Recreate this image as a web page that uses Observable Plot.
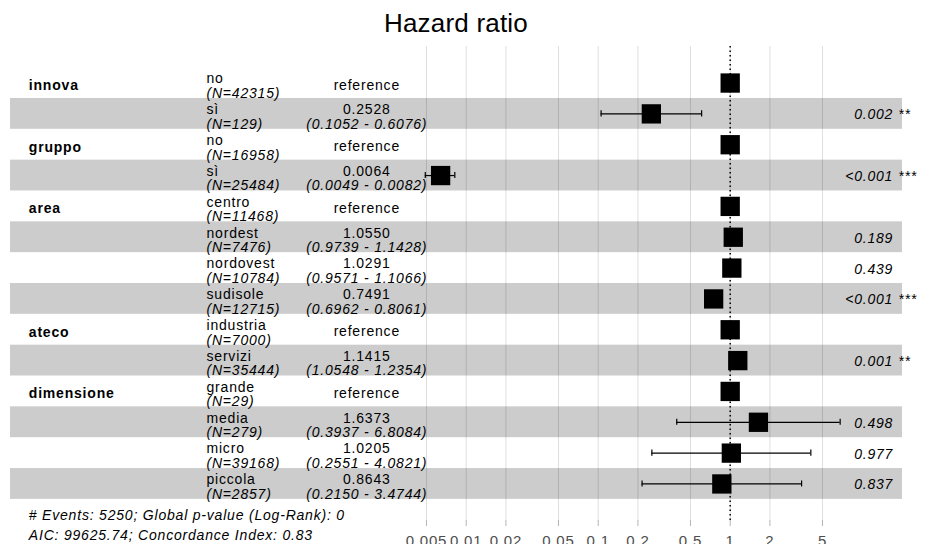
<!DOCTYPE html>
<html>
<head>
<meta charset="utf-8">
<script src="https://cdn.jsdelivr.net/npm/d3@7"></script>
<script src="https://cdn.jsdelivr.net/npm/@observablehq/plot@0.6"></script>
<style>
  body { margin: 0; background: #fff; }
  #wrap { position: relative; width: 930px; height: 544px; overflow: hidden; font-family: "Liberation Sans", Arial, sans-serif; background: #fff; }
  #title { position: absolute; left: 10px; top: 0; width: 892px; height: 40px; box-sizing: border-box; padding-top: 3px;
           text-align: center; font-size: 26px; line-height: 40px; color: #000; letter-spacing: 0.2px; }
  #chart { position: absolute; left: 0; top: 40px; }
  #chart svg text { letter-spacing: 0.8px; }
</style>
</head>
<body>
<div id="wrap">
  <div id="title">Hazard ratio</div>
  <div id="chart"></div>
</div>
<script>
// ---- data ----
const variables = ["innova","innova","gruppo","gruppo","area","area","area","area","ateco","ateco","dimensione","dimensione","dimensione","dimensione"];
const levels    = ["no","sì","no","sì","centro","nordest","nordovest","sudisole","industria","servizi","grande","media","micro","piccola"];
const counts    = [42315,129,16958,25484,11468,7476,10784,12715,7000,35444,29,279,39168,2857];
const hr        = [1,0.2528,1,0.0064,1,1.0550,1.0291,0.7491,1,1.1415,1,1.6373,1.0205,0.8643];
const lower     = [null,0.1052,null,0.0049,null,0.9739,0.9571,0.6962,null,1.0548,null,0.3937,0.2551,0.2150];
const upper     = [null,0.6076,null,0.0082,null,1.1428,1.1066,0.8061,null,1.2354,null,6.8084,4.0821,3.4744];
const pvalues   = [null,"0.002",null,"<0.001",null,"0.189","0.439","<0.001",null,"0.001",null,"0.498","0.977","0.837"];
const stars     = ["","**","","***","","","","***","","**","","","",""];
const tickValues = [0.005,0.01,0.02,0.05,0.1,0.2,0.5,1,2,5];
const tickLabels = ["0.005","0.01","0.02","0.05","0.1","0.2","0.5","1","2","5"];
const footLine1 = "# Events: 5250; Global p-value (Log-Rank): 0";
const footLine2 = "AIC: 99625.74; Concordance Index: 0.83";

// ---- table built from the arrays ----
const rows = levels.map((lv, i) => ({
  row: i,
  variable: variables[i],
  first: i === 0 || variables[i] !== variables[i - 1],
  level: lv,
  n: counts[i],
  hr: hr[i],
  lo: lower[i],
  hi: upper[i],
  p: pvalues[i],
  stars: stars[i],
  ref: lower[i] == null
}));
const refRows = rows.filter(d => d.ref);
const estRows = rows.filter(d => !d.ref);
const shaded = rows.filter(d => d.row % 2 === 1);
const ticks = tickValues.map((v, i) => ({ v, label: tickLabels[i] }));

const fs = 14;
const plot = Plot.plot({
  width: 930,
  height: 504,
  marginLeft: 10,
  marginRight: 28,
  marginTop: 6,
  marginBottom: 24,
  style: { fontFamily: '"Liberation Sans", Arial, sans-serif', background: "white", overflow: "visible", color: "black" },
  x: { type: "log", domain: [3.53e-6, 20.2], axis: null },
  y: { type: "band", domain: d3.range(levels.length), paddingInner: 0, paddingOuter: 0.685, round: false, axis: null },
  marks: [
    Plot.gridX(tickValues, { stroke: "#DEDEDE", strokeOpacity: 1, strokeWidth: 1 }),
    Plot.cell(shaded, { y: "row", fill: "black", fillOpacity: 0.2, inset: 0 }),
    // axis ticks and labels
    Plot.tickX(ticks, { x: "v", stroke: "#B3B3B3", strokeWidth: 1, insetTop: 474, insetBottom: -6 }),
    Plot.text(ticks, { x: "v", text: "label", frameAnchor: "bottom", lineAnchor: "top", dy: 15, fontSize: 15, fill: "#4D4D4D" }),
    Plot.ruleX([1], { stroke: "black", strokeDasharray: "1.5,3", strokeWidth: 1.5 }),
    // confidence intervals
    Plot.ruleY(estRows, { y: "row", x1: "lo", x2: "hi", stroke: "black", strokeWidth: 1.2 }),
    Plot.tickX(estRows, { x: "lo", y: "row", stroke: "black", strokeWidth: 1.2, insetTop: 12.4, insetBottom: 12.4 }),
    Plot.tickX(estRows, { x: "hi", y: "row", stroke: "black", strokeWidth: 1.2, insetTop: 12.4, insetBottom: 12.4 }),
    // point estimates
    Plot.dot(rows, { x: "hr", y: "row", symbol: "square", r: 10.9, fill: "black", stroke: null }),
    // variable names
    Plot.text(rows.filter(d => d.first), { y: "row", text: "variable", frameAnchor: "left", textAnchor: "start", dx: 18.3, dy: 2.5, fontWeight: "bold", fontSize: fs, fill: "black" }),
    // level and N
    Plot.text(rows, { y: "row", text: "level", frameAnchor: "left", textAnchor: "start", dx: 196, dy: -4.2, fontSize: fs, fill: "black" }),
    Plot.text(rows, { y: "row", text: d => `(N=${d.n})`, frameAnchor: "left", textAnchor: "start", dx: 196, dy: 10.3, fontSize: fs, fontStyle: "italic", fill: "black" }),
    // estimates
    Plot.text(refRows, { y: "row", text: () => "reference", frameAnchor: "left", textAnchor: "middle", dx: 356.3, dy: 2.2, fontSize: fs, fill: "black" }),
    Plot.text(estRows, { y: "row", text: d => d.hr.toFixed(4), frameAnchor: "left", textAnchor: "middle", dx: 356.3, dy: -4.2, fontSize: fs, fill: "black" }),
    Plot.text(estRows, { y: "row", text: d => `(${d.lo.toFixed(4)} - ${d.hi.toFixed(4)})`, frameAnchor: "left", textAnchor: "middle", dx: 356.3, dy: 10.3, fontSize: fs, fontStyle: "italic", fill: "black" }),
    // p-values and stars
    Plot.text(estRows, { y: "row", text: "p", frameAnchor: "right", textAnchor: "end", dx: -9.3, dy: 1, fontSize: fs, fontStyle: "italic", fill: "black" }),
    Plot.text(estRows.filter(d => d.stars), { y: "row", text: "stars", frameAnchor: "right", textAnchor: "start", dx: -4.3, dy: 1, fontSize: fs, fontStyle: "italic", fill: "black" }),
    // footnote
    Plot.text([footLine1], { frameAnchor: "bottom-left", lineAnchor: "middle", textAnchor: "start", dx: 18.3, dy: -4.5, fontSize: fs, fontStyle: "italic", fill: "black" }),
    Plot.text([footLine2], { frameAnchor: "bottom-left", lineAnchor: "middle", textAnchor: "start", dx: 18.3, dy: 14.8, fontSize: fs, fontStyle: "italic", fill: "black" })
  ]
});
document.getElementById("chart").appendChild(plot);
</script>
</body>
</html>
